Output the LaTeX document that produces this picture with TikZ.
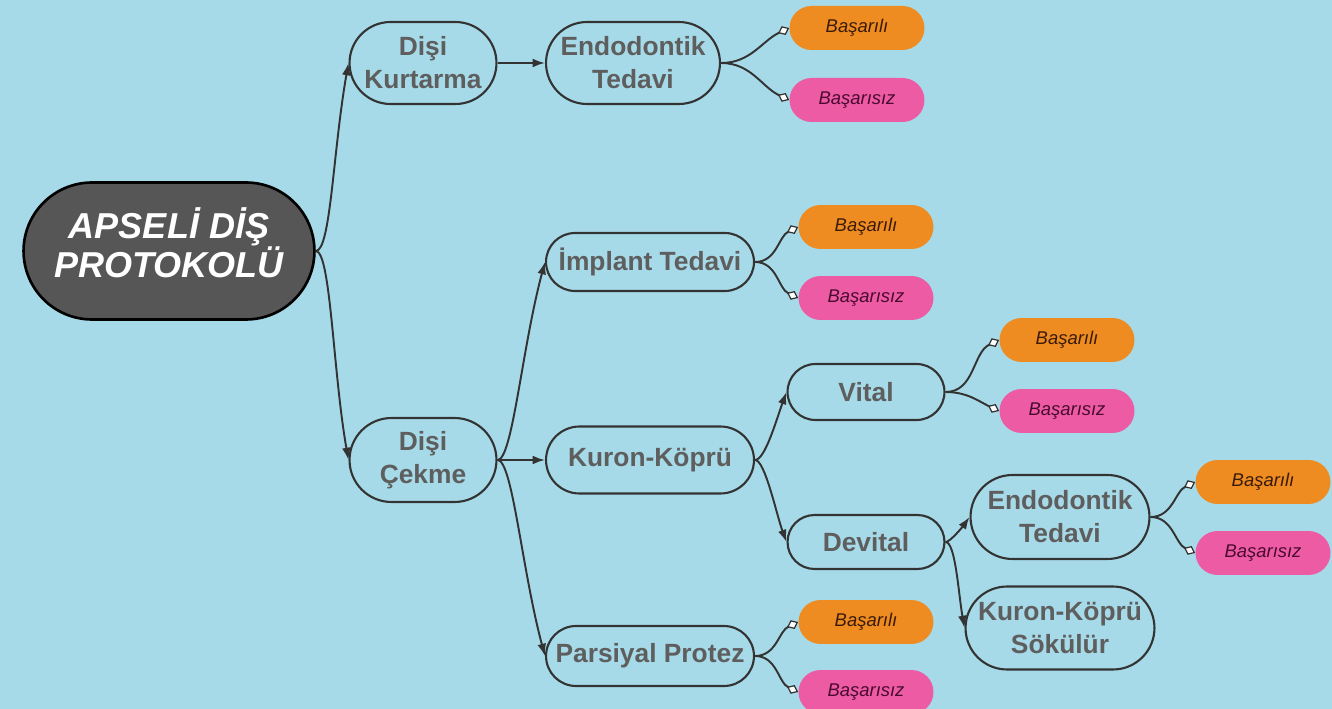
\documentclass[tikz,border=0pt]{standalone}
\usepackage{fontspec}
\setmainfont{Liberation Sans}
\usetikzlibrary{shapes.misc}
\usetikzlibrary{arrows.meta}
\definecolor{bgblue}{HTML}{A6DAE8}
\definecolor{oktone}{HTML}{EE8C22}
\definecolor{failtone}{HTML}{EC5BA4}
\definecolor{greytext}{HTML}{5E5E5E}
\definecolor{rootfill}{HTML}{565656}
\definecolor{linegrey}{HTML}{333333}
\definecolor{oktext}{HTML}{3A1A08}
\definecolor{failtext}{HTML}{4A0A30}
\tikzset{
    rootnode/.style = {rounded rectangle, line width=1.5pt, draw=black, fill=rootfill, text=white, align=center, inner sep=2pt, text depth=0.32cm, minimum width=5.96cm, minimum height=2.74cm, font=\fontsize{20.5}{22.2}\selectfont\bfseries\itshape},
    mynode/.style = {rounded rectangle, line width=1.2pt, draw=linegrey, align=center, inner sep=2pt, text=greytext, font=\fontsize{15}{18.8}\selectfont\bfseries},
    oknode/.style = {rounded rectangle, draw=none, fill=oktone, inner sep=2pt, minimum width=2.84cm, minimum height=0.88cm, text=oktext, font=\fontsize{10.5}{12}\selectfont\itshape},
    failnode/.style = {oknode, fill=failtone, text=failtext},
    edgen/.style = {-{Latex[length=7pt,width=5pt]}, line width=1.1pt, draw=linegrey},
    edged/.style = {-{Diamond[fill=white,length=7pt,width=5.5pt,line width=0.7pt]}, line width=1.1pt, draw=linegrey}
}
\begin{document}
\begin{tikzpicture}[x=0.02cm,y=-0.02cm]
\fill[bgblue] (0,0) rectangle (1332,709);
\useasboundingbox (0,0) rectangle (1332,709);
%
\node[rootnode] at (169,251) (root) {APSELİ DİŞ\\PROTOKOLÜ};
%
\node[mynode,minimum width=3.08cm,minimum height=1.64cm] at (423,63) (kurtarma) {Dişi\\Kurtarma};
\node[mynode,minimum width=3.62cm,minimum height=1.64cm] at (633,63) (endo) {Endodontik\\Tedavi};
\node[oknode] at (857,28) (endook) {Başarılı};
\node[failnode] at (857,100) (endofail) {Başarısız};
%
\node[mynode,minimum width=3.08cm,minimum height=1.68cm] at (423,460) (cekme) {Dişi\\Çekme};
\node[mynode,minimum width=4.30cm,minimum height=1.16cm] at (650,262) (implant) {İmplant Tedavi};
\node[oknode] at (866,227) (implantok) {Başarılı};
\node[failnode] at (866,298) (implantfail) {Başarısız};
%
\node[mynode,minimum width=4.30cm,minimum height=1.34cm] at (650,460) (kuron) {Kuron-Köprü};
\node[mynode,minimum width=3.28cm,minimum height=1.12cm] at (866,392) (vital) {Vital};
\node[oknode] at (1067,340) (vitalok) {Başarılı};
\node[failnode] at (1067,411) (vitalfail) {Başarısız};
\node[mynode,minimum width=3.28cm,minimum height=1.08cm] at (866,542) (devital) {Devital};
\node[mynode,minimum width=3.72cm,minimum height=1.68cm] at (1060,517) (devendo) {Endodontik\\Tedavi};
\node[oknode] at (1263,482) (devendook) {Başarılı};
\node[failnode] at (1263,553) (devendofail) {Başarısız};
\node[mynode,minimum width=3.72cm,minimum height=1.66cm] at (1060,628) (sokulur) {Kuron-Köprü\\Sökülür};
%
\node[mynode,minimum width=4.30cm,minimum height=1.20cm] at (650,656) (parsiyal) {Parsiyal Protez};
\node[oknode] at (866,622) (parsiyalok) {Başarılı};
\node[failnode] at (866,692) (parsiyalfail) {Başarısız};
%
\draw[edgen] (root.east) to[out=0,in=-100,out distance=0.3cm,in distance=1.8cm] (kurtarma.west);
\draw[edgen] (root.east) to[out=0,in=100,out distance=0.3cm,in distance=1.8cm] (cekme.west);
\draw[edgen] (kurtarma.east) -- (endo.west);
\draw[edged] (endo.east) to[out=0,in=205] (endook.west);
\draw[edged] (endo.east) to[out=0,in=155] (endofail.west);
%
\draw[edgen] (cekme.east) to[out=0,in=-105,out distance=0.3cm,in distance=1.8cm] (implant.west);
\draw[edgen] (cekme.east) -- (kuron.west);
\draw[edgen] (cekme.east) to[out=0,in=105,out distance=0.3cm,in distance=1.8cm] (parsiyal.west);
\draw[edged] (implant.east) to[out=0,in=205] (implantok.west);
\draw[edged] (implant.east) to[out=0,in=155] (implantfail.west);
%
\draw[edgen] (kuron.east) to[out=0,in=-110,out distance=0.2cm,in distance=0.6cm] (vital.west);
\draw[edgen] (kuron.east) to[out=0,in=110,out distance=0.2cm,in distance=0.6cm] (devital.west);
\draw[edged] (vital.east) to[out=0,in=205] (vitalok.west);
\draw[edged] (vital.east) to[out=0,in=155] (vitalfail.west);
\draw[edgen] (devital.east) to[out=0,in=-125,out distance=0.1cm,in distance=0.2cm] (devendo.west);
\draw[edgen] (devital.east) to[out=0,in=100,out distance=0.2cm,in distance=0.7cm] (sokulur.west);
\draw[edged] (devendo.east) to[out=0,in=205] (devendook.west);
\draw[edged] (devendo.east) to[out=0,in=155] (devendofail.west);
%
\draw[edged] (parsiyal.east) to[out=0,in=205] (parsiyalok.west);
\draw[edged] (parsiyal.east) to[out=0,in=155] (parsiyalfail.west);

\end{tikzpicture}
\end{document}
